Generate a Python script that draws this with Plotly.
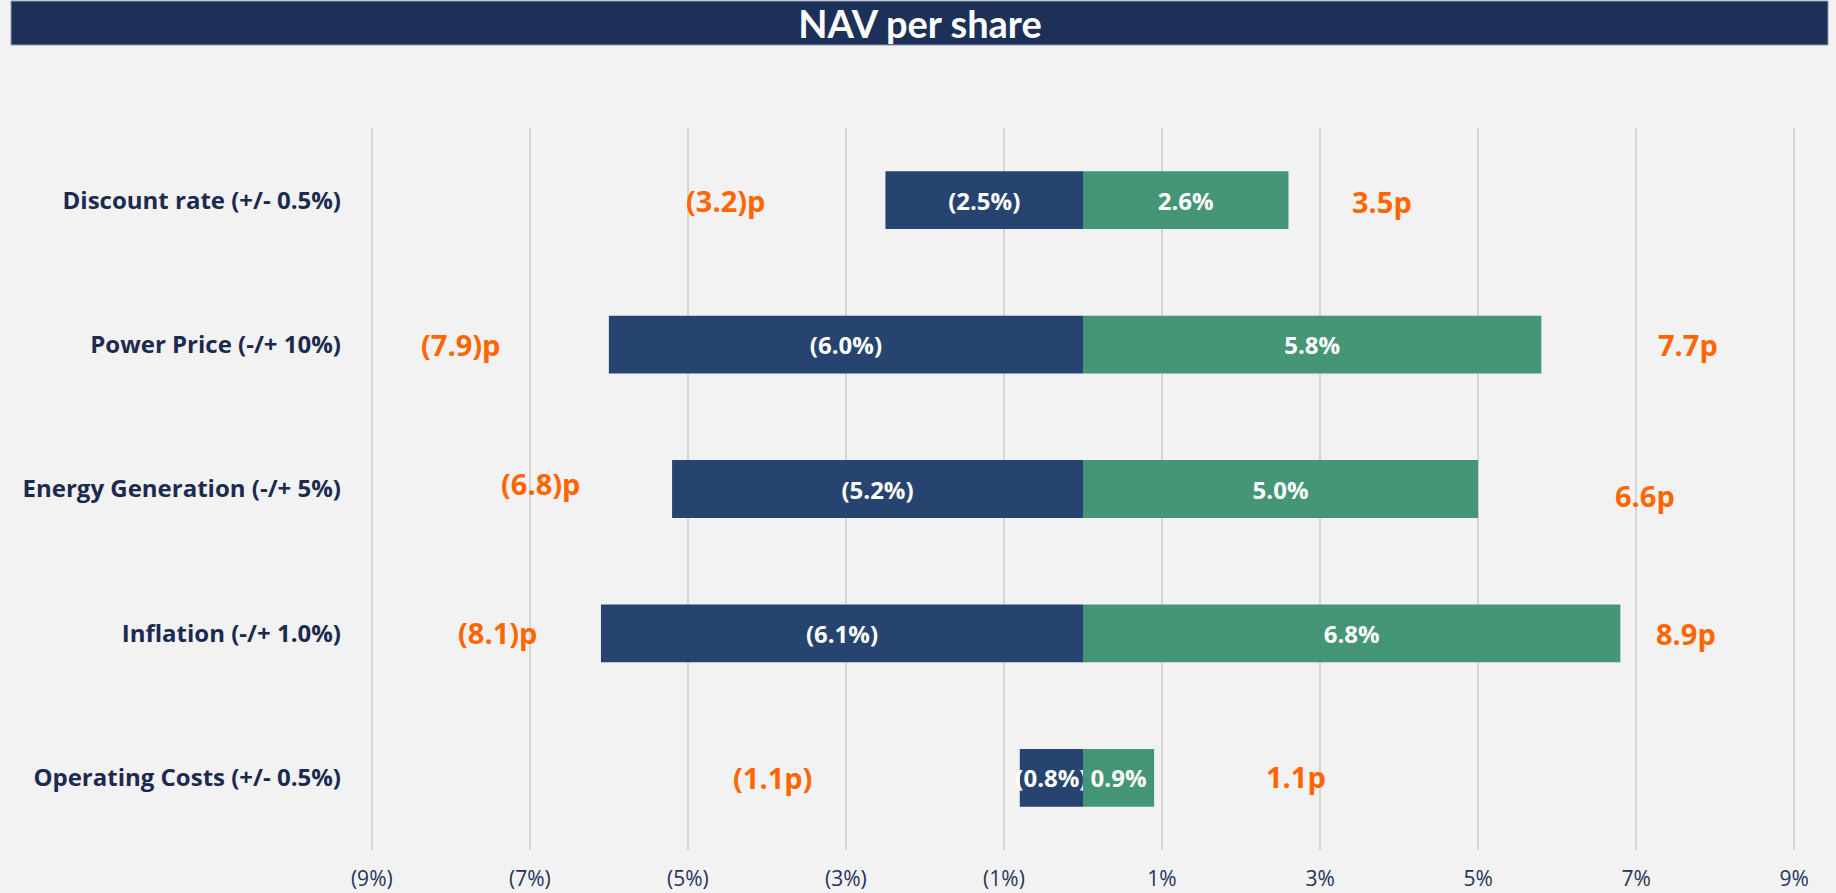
import plotly.graph_objects as go

# ---- data ----
categories = [
    "Discount rate (+/- 0.5%)",
    "Power Price (-/+ 10%)",
    "Energy Generation (-/+ 5%)",
    "Inflation (-/+ 1.0%)",
    "Operating Costs (+/- 0.5%)",
]
downside_pct = [-2.5, -6.0, -5.2, -6.1, -0.8]
upside_pct = [2.6, 5.8, 5.0, 6.8, 0.9]
downside_pence_labels = ["(3.2)p", "(7.9)p", "(6.8)p", "(8.1)p", "(1.1p)"]
upside_pence_labels = ["3.5p", "7.7p", "6.6p", "8.9p", "1.1p"]
tick_values = [-9, -7, -5, -3, -1, 1, 3, 5, 7, 9]
tick_labels = ["(9%)", "(7%)", "(5%)", "(3%)", "(1%)", "1%", "3%", "5%", "7%", "9%"]

# ---- label placement (layout) ----
downside_label_x = [-4.52, -7.88, -6.86, -7.41, -3.93]
upside_label_x = [3.78, 7.66, 7.11, 7.63, 2.70]
downside_label_dy = [0, 0, 6, 1, 0]
upside_label_dy = [-1, 0, -6, 0, 1]

NAVY_BAND = "#1d3057"
NAVY_BAR = "#26446f"
GREEN = "#459577"
ORANGE = "#ff6600"
TEXT_NAVY = "#1b2a4e"
BG = "#f2f2f2"


def fmt_pct(v):
    return f"({abs(v):.1f}%)" if v < 0 else f"{v:.1f}%"


fig = go.Figure()
fig.add_trace(go.Bar(
    y=categories, x=downside_pct, orientation="h", width=0.4,
    marker=dict(color=NAVY_BAR, line=dict(width=0)),
    text=[fmt_pct(v) for v in downside_pct],
    textposition="inside", insidetextanchor="middle", constraintext="none",
    textfont=dict(family="Open Sans", size=24, color="white", weight=700),
    hoverinfo="skip", showlegend=False,
))
fig.add_trace(go.Bar(
    y=categories, x=upside_pct, orientation="h", width=0.4,
    marker=dict(color=GREEN, line=dict(width=0)),
    text=[fmt_pct(v) for v in upside_pct],
    textposition="inside", insidetextanchor="middle", constraintext="none",
    textfont=dict(family="Open Sans", size=24, color="white", weight=700),
    hoverinfo="skip", showlegend=False,
))

annotations = []
for cat, lab, xx, dy in zip(categories, downside_pence_labels, downside_label_x, downside_label_dy):
    annotations.append(dict(x=xx, y=cat, xref="x", yref="y", text=lab, showarrow=False,
                            yshift=dy, xanchor="center", yanchor="middle",
                            font=dict(family="Open Sans", size=29, color=ORANGE, weight=700)))
for cat, lab, xx, dy in zip(categories, upside_pence_labels, upside_label_x, upside_label_dy):
    annotations.append(dict(x=xx, y=cat, xref="x", yref="y", text=lab, showarrow=False,
                            yshift=dy, xanchor="center", yanchor="middle",
                            font=dict(family="Open Sans", size=29, color=ORANGE, weight=700)))

W, H = 1836, 893
plot_left, plot_right = 356, 1810
plot_top, plot_bottom = 128, 850
pw = plot_right - plot_left
ph = plot_bottom - plot_top

fig.update_layout(
    width=W, height=H,
    paper_bgcolor=BG, plot_bgcolor=BG,
    margin=dict(l=plot_left, r=W - plot_right, t=plot_top, b=H - plot_bottom, pad=0, autoexpand=False),
    barmode="relative",
    bargap=0.6,
    uniformtext=dict(minsize=24, mode="show"),
    title=dict(text="NAV per share", x=920 / W, xanchor="center", xref="container",
               y=1 - 25 / H, yanchor="middle", yref="container",
               font=dict(family="Lato", size=38, color="white", weight=700)),
    shapes=[dict(type="rect", xref="paper", yref="paper",
                 x0=(11 - plot_left) / pw, x1=(1828 - plot_left) / pw,
                 y0=(plot_bottom - 45) / ph, y1=(plot_bottom - 1) / ph,
                 fillcolor=NAVY_BAND, line=dict(color="#8f9bb0", width=1), layer="below")],
    annotations=annotations,
    xaxis=dict(range=[-9.2, 9.2], tickvals=tick_values, ticktext=tick_labels,
               showgrid=True, gridcolor="#d6d6d6", gridwidth=2, zeroline=False,
               showline=False, ticks="", ticklabelstandoff=14,
               tickfont=dict(family="Open Sans", size=21, color="#24345a"),
               fixedrange=True),
    yaxis=dict(categoryorder="array", categoryarray=categories, autorange="reversed",
               showgrid=False, zeroline=False, showline=False, ticks="",
               ticklabelstandoff=14,
               tickfont=dict(family="Open Sans", size=24, color=TEXT_NAVY, weight=700),
               fixedrange=True),
)

fig.write_html(
    "out.html",
    config={"displayModeBar": False},
    post_script="document.body.style.margin='0';document.body.style.background='%s';" % BG,
)
